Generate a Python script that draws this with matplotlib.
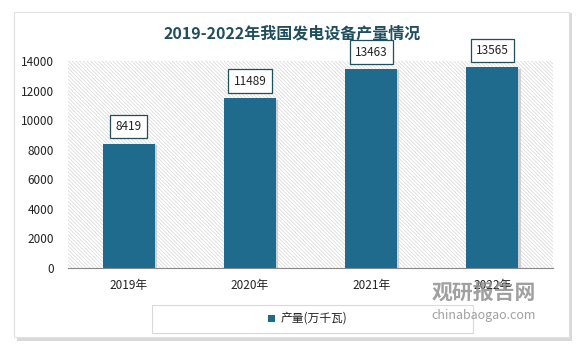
import matplotlib.pyplot as plt
from matplotlib.patches import Rectangle
import matplotlib.patheffects as pe

plt.rcParams['font.family'] = ['Noto Sans CJK SC', 'DejaVu Sans']
plt.rcParams['hatch.linewidth'] = 0.5

# 数据
years = ['2019年', '2020年', '2021年', '2022年']
output = [8419, 11489, 13463, 13565]
series_name = '产量(万千瓦)'
title = '2019-2022年我国发电设备产量情况'

bar_color = '#1f6b8e'
title_color = '#1f4e5f'

W, H = 583, 349
fig = plt.figure(figsize=(W / 100, H / 100), dpi=100)
fig.patch.set_facecolor('white')

# card with shadow
fig.patches.append(Rectangle((17 / W, 1 - 341 / H), 555 / W, 328 / H, transform=fig.transFigure,
                             facecolor='#d9d9d9', edgecolor='none', zorder=-3))
fig.patches.append(Rectangle((14 / W, 1 - 337 / H), 555 / W, 325 / H, transform=fig.transFigure,
                             facecolor='white', edgecolor='#e0e0e0', lw=0.8, zorder=-2))

ax = fig.add_axes([68 / W, 1 - 268 / H, 485 / W, 207 / H])
ax.set_zorder(2)
ax.set_facecolor('none')
# hatched plot area
ax.add_patch(Rectangle((0, 0), 1, 1, transform=ax.transAxes, facecolor='white',
                       edgecolor='#d6d6d6', lw=0, hatch='\\' * 9, zorder=0))

x = range(len(years))
bars = ax.bar(x, output, width=0.43, color=bar_color, zorder=3,
              path_effects=[pe.SimplePatchShadow(offset=(1.5, -1), shadow_rgbFace='#c8c8c8', alpha=0.8),
                            pe.Normal()])

for xi, v in zip(x, output):
    ax.text(xi, v + 700, str(v), ha='center', va='bottom', fontsize=8.5, color='#222222', zorder=5,
            bbox=dict(boxstyle='square,pad=0.45', facecolor='white', edgecolor=title_color, lw=0.9))

ax.set_xlim(-0.5, 3.5)
ax.set_ylim(0, 14000)
ax.set_yticks(range(0, 14001, 2000))
ax.set_xticks(list(x))
ax.set_xticklabels(years)
ax.tick_params(axis='both', length=0, labelsize=8.5, colors='#222222')
ax.tick_params(axis='x', pad=8)
ax.tick_params(axis='y', pad=10)
for s in ['top', 'right', 'left']:
    ax.spines[s].set_visible(False)
ax.spines['bottom'].set_color('#888888')
ax.spines['bottom'].set_zorder(4)

fig.text(292 / W, 1 - 33 / H, title, ha='center', va='center', fontsize=11.5,
         fontweight='bold', color=title_color)

# legend box
fig.patches.append(Rectangle((152 / W, 1 - 333 / H), 321 / W, 28 / H, transform=fig.transFigure,
                             facecolor='white', edgecolor='#d9d9d9', lw=0.8, zorder=1))
fig.patches.append(Rectangle((268 / W, 1 - 322 / H), 7 / W, 7 / H, transform=fig.transFigure,
                             facecolor=bar_color, edgecolor='none', zorder=2))
fig.text(281 / W, 1 - 318 / H, series_name, ha='left', va='center', fontsize=8.5, color='#222222')

# watermark
fig.text(484 / W, 1 - 292 / H, '观研报告网', ha='center', va='center', fontsize=15,
         fontweight='bold', color='#8f8f8f', alpha=0.85, zorder=6)
fig.text(484 / W, 1 - 316 / H, 'chinabaogao.com', ha='center', va='center', fontsize=9,
         color='#8f8f8f', alpha=0.85, zorder=6)

fig.savefig('out.png', dpi=100)
